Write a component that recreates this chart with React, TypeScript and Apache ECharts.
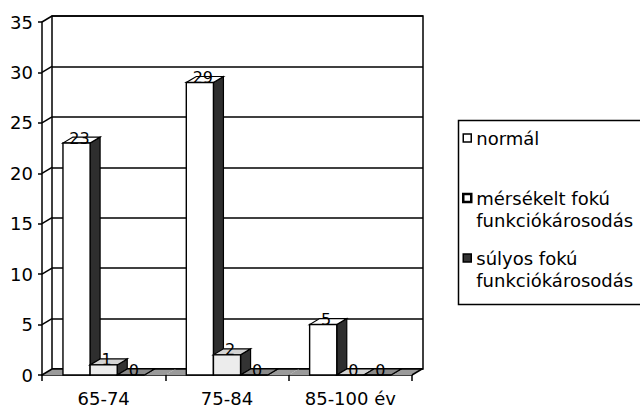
import React, { useEffect, useRef } from 'react';
import * as echarts from 'echarts';

const categories = ['65-74', '75-84', '85-100 év'];
const normalValues = [23, 29, 5];
const moderateValues = [1, 2, 0];
const severeValues = [0, 0, 0];
const seriesNames = ['normál', 'mérsékelt fokú\nfunkciókárosodás', 'súlyos fokú\nfunkciókárosodás'];
const yTicks = [0, 5, 10, 15, 20, 25, 30, 35];

const FONT = 'DejaVu Sans';
const DX = 10;
const DY = -6;

const barStyles = [
  { front: '#ffffff', top: '#ffffff', side: '#2e2e2e' },
  { front: '#ececec', top: '#d4d4d4', side: '#333333' },
  { front: '#555555', top: '#8a8a8a', side: '#2e2e2e' },
];

function makeBarRenderer(sIdx: number) {
  return (params: any, api: any) => {
    const ci = api.value(0);
    const v = api.value(1);
    const base = api.coord([ci, 0]);
    const topPt = api.coord([ci, v]);
    const band = api.size([1, 0])[0];
    const bw = band * 0.22;
    const cx = base[0] + (sIdx - 1) * bw;
    const x0 = cx - bw / 2;
    const x1 = cx + bw / 2;
    const yb = base[1];
    const yt = topPt[1];
    const st = barStyles[sIdx];
    return {
      type: 'group',
      children: [
        {
          type: 'polygon',
          shape: { points: [[x1, yt], [x1 + DX, yt + DY], [x1 + DX, yb + DY], [x1, yb]] },
          style: { fill: st.side, stroke: '#000', lineWidth: 1.2 },
        },
        {
          type: 'polygon',
          shape: { points: [[x0, yt], [x1, yt], [x1 + DX, yt + DY], [x0 + DX, yt + DY]] },
          style: { fill: st.top, stroke: '#000', lineWidth: 1.2 },
        },
        {
          type: 'rect',
          shape: { x: x0, y: yt, width: bw, height: yb - yt },
          style: { fill: st.front, stroke: '#000', lineWidth: 1.4 },
        },
        {
          type: 'text',
          x: cx + 3,
          y: yt + 3,
          style: {
            text: String(v),
            fill: '#000',
            fontSize: 16,
            fontFamily: FONT,
            align: 'center',
            verticalAlign: 'bottom',
          },
        },
      ],
    };
  };
}

function floorRenderer(params: any, api: any) {
  const ci = api.value(0);
  const c = api.coord([ci, 0]);
  const band = api.size([1, 0])[0];
  const x0 = c[0] - band / 2;
  const x1 = c[0] + band / 2;
  const y0 = c[1];
  const children: any[] = [
    {
      type: 'polygon',
      shape: { points: [[x0, y0], [x1, y0], [x1 + DX, y0 + DY], [x0 + DX, y0 + DY]] },
      style: { fill: '#9a9a9a' },
    },
    {
      type: 'line',
      shape: { x1: x0 + DX, y1: y0 + DY, x2: x1 + DX, y2: y0 + DY },
      style: { stroke: '#000', lineWidth: 1.5 },
    },
  ];
  if (ci === categories.length - 1) {
    children.push({
      type: 'line',
      shape: { x1: x1, y1: y0, x2: x1 + DX, y2: y0 + DY },
      style: { stroke: '#000', lineWidth: 1.5 },
    });
  }
  return { type: 'group', children };
}

function wallRenderer(params: any, api: any) {
  const v = api.value(1);
  const c = api.coord([0, v]);
  const band = api.size([1, 0])[0];
  const x = c[0] - band / 2;
  return {
    type: 'line',
    shape: { x1: x, y1: c[1], x2: x + DX, y2: c[1] + DY },
    style: { stroke: '#000', lineWidth: 1.5 },
  };
}

const legendItemStyles = [
  { color: '#ffffff', borderColor: '#000', borderWidth: 1.5 },
  { color: '#ffffff', borderColor: '#000', borderWidth: 2.5 },
  { color: '#333333', borderColor: '#000', borderWidth: 1.5 },
];

export default function App() {
  const ref = useRef<HTMLDivElement>(null);

  useEffect(() => {
    if (!ref.current) return;
    const chart = echarts.init(ref.current, null, { renderer: 'svg' });
    const valueSets = [normalValues, moderateValues, severeValues];

    const option: any = {
      animation: false,
      backgroundColor: '#ffffff',
      textStyle: { fontFamily: FONT },
      grid: [
        { left: 42, top: 22, width: 370, height: 353, containLabel: false },
        {
          left: 52, top: 16, width: 371, height: 353, show: true,
          borderColor: '#000', borderWidth: 1.5, backgroundColor: '#ffffff',
        },
      ],
      graphic: [
        {
          type: 'rect',
          left: 456,
          top: 118,
          shape: { width: 220, height: 184 },
          style: { fill: 'none', stroke: '#000', lineWidth: 1.5 },
          silent: true,
        },
      ],
      xAxis: [
        {
          type: 'category',
          gridIndex: 0,
          data: categories,
          axisLine: { show: true, lineStyle: { color: '#000', width: 1.5 } },
          axisTick: { show: true, length: 6, lineStyle: { color: '#000', width: 1.5 } },
          axisLabel: { color: '#000', fontSize: 18, fontFamily: FONT, margin: 14 },
          splitLine: { show: false },
        },
        {
          type: 'category',
          gridIndex: 1,
          data: categories,
          show: false,
        },
      ],
      yAxis: [
        {
          type: 'value',
          gridIndex: 0,
          min: 0,
          max: 35,
          interval: 5,
          axisLine: { show: true, lineStyle: { color: '#000', width: 1.5 } },
          axisTick: { show: true, length: 4, lineStyle: { color: '#000', width: 1.5 } },
          axisLabel: { color: '#000', fontSize: 18, fontFamily: FONT, margin: 9 },
          splitLine: { show: false },
        },
        {
          type: 'value',
          gridIndex: 1,
          min: 0,
          max: 35,
          interval: 5,
          axisLine: { show: false },
          axisTick: { show: false },
          axisLabel: { show: false },
          splitLine: { show: true, lineStyle: { color: '#000', width: 1.5 } },
        },
      ],
      legend: {
        orient: 'vertical',
        left: 456,
        top: 105,
        padding: [0, 0, 0, 6],
        itemWidth: 8,
        itemHeight: 8,
        itemGap: -6,
        icon: 'rect',
        selectedMode: false,
        formatter: (name: string) => (name === seriesNames[0] ? '\n' + name + '\n' : '\n' + name),
        textStyle: { fontFamily: FONT, fontSize: 18, color: '#000', lineHeight: 22 },
        data: seriesNames.map((name, i) => ({
          name,
          itemStyle: legendItemStyles[i],
        })),
      },
      series: [
        {
          type: 'custom',
          name: 'floor',
          xAxisIndex: 0,
          yAxisIndex: 0,
          renderItem: floorRenderer,
          data: categories.map((_, i) => [i, 0]),
          silent: true,
        },
        {
          type: 'custom',
          name: 'wall',
          xAxisIndex: 0,
          yAxisIndex: 0,
          renderItem: wallRenderer,
          data: yTicks.map((v) => [0, v]),
          silent: true,
        },
        ...seriesNames.map((name, sIdx) => ({
          type: 'custom',
          name,
          xAxisIndex: 0,
          yAxisIndex: 0,
          itemStyle: legendItemStyles[sIdx],
          renderItem: makeBarRenderer(sIdx),
          encode: { x: 0, y: 1 },
          data: valueSets[sIdx].map((v, i) => [i, v]),
        })),
      ],
    };

    chart.setOption(option);
    return () => {
      chart.dispose();
    };
  }, []);

  return (
    <div
      ref={ref}
      style={{ position: 'absolute', left: 0, top: 0, width: 640, height: 407, background: '#fff' }}
    />
  );
}
